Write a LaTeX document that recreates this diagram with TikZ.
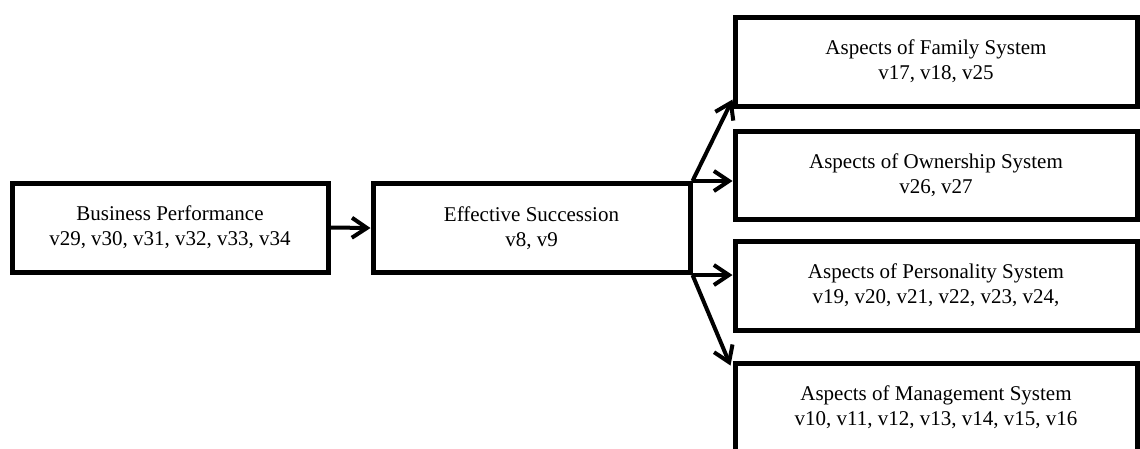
\documentclass[tikz,border=0pt]{standalone}
\usepackage{fontspec}
\setmainfont{Liberation Serif}
\usetikzlibrary{arrows.meta, positioning, calc}
\tikzset{
  % Construct boxes
  cbox/.style={
    draw, line width=5pt, rectangle,
    align=center, inner sep=4pt,
    minimum height=89pt,
    font=\fontsize{21}{25}\selectfont,
  },
  cLeft/.style={cbox, minimum width=316pt},
  cMid/.style={cbox, minimum width=317pt},
  cAsp/.style={cbox, minimum width=402pt},
  % Arrows
  arr/.style={-{Straight Barb[length=15pt,width=20pt,line width=4pt]}, line width=4pt, line join=round},
}
\begin{document}
\begin{tikzpicture}[x=1pt, y=-1pt]

\useasboundingbox (0,0) rectangle (1140,448);
\clip (0,0) rectangle (1140,448);

%% ═══════════════════════════════════════════════════════════════════
%% LEFT – performance and succession
%% ═══════════════════════════════════════════════════════════════════

\node[cLeft] (perf) at (170,227.5) {
  Business Performance\\
  v29, v30, v31, v32, v33, v34
};

\node[cMid] (succ) at (531.5,228) {
  Effective Succession\\
  v8, v9
};

\draw[arr] (perf.east) -- (succ.west);

%% ═══════════════════════════════════════════════════════════════════
%% RIGHT – four aspects
%% ═══════════════════════════════════════════════════════════════════

\node[cAsp] (fam) at (936,61.5) {
  Aspects of Family System\\
  v17, v18, v25
};

\node[cAsp, minimum height=88pt] (own) at (936,175) {
  Aspects of Ownership System\\
  v26, v27
};

\node[cAsp] (pers) at (936,285.5) {
  Aspects of Personality System\\
  v19, v20, v21, v22, v23, v24,
};

\node[cAsp] (mgmt) at (936,407.5) {
  Aspects of Management System\\
  v10, v11, v12, v13, v14, v15, v16
};

% Arrows: succession -> aspects
\draw[arr] (succ.north east) -- ([yshift=9pt]fam.south west);
\draw[arr] (succ.north east) -- (succ.north east -| own.west);
\draw[arr] (succ.south east) -- (succ.south east -| pers.west);
\draw[arr] (succ.south east) -- ([xshift=-2pt,yshift=-5pt]mgmt.north west);

\end{tikzpicture}
\end{document}
